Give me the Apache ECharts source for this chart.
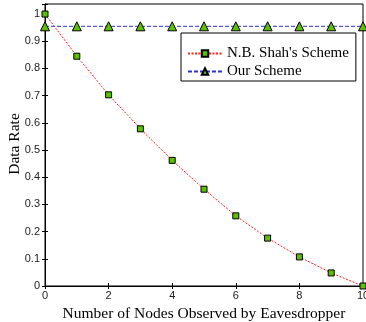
<!DOCTYPE html>
<html>
<head>
<meta charset="utf-8">
<script src="https://cdn.jsdelivr.net/npm/echarts@6/dist/echarts.min.js"></script>
<style>
  html, body { margin: 0; padding: 0; background: #fff; }
  #chart { width: 366px; height: 322px; }
</style>
</head>
<body>
<div id="chart"></div>
<script>
var nodes = [0, 1, 2, 3, 4, 5, 6, 7, 8, 9, 10];
var shahScheme = [1, 0.845, 0.703, 0.578, 0.462, 0.356, 0.258, 0.176, 0.107, 0.048, 0];
var ourScheme = [0.955, 0.955, 0.955, 0.955, 0.955, 0.955, 0.955, 0.955, 0.955, 0.955, 0.955];
var seriesNames = ["N.B. Shah's Scheme", "Our Scheme"];
var yTitle = "Data Rate";

var chart = echarts.init(document.getElementById("chart"));
var serif = "Liberation Serif";
var sans = "Liberation Sans";

function pairs(ys) {
  return nodes.map(function (x, i) { return [x, ys[i]]; });
}

var option = {
  animation: false,
  grid: {
    left: 45,
    right: 3,
    top: 4,
    bottom: 36,
    outerBoundsMode: "none",
    containLabel: false,
    show: true,
    borderColor: "#000",
    borderWidth: 1,
  },
  // y title drawn as plain text so it sits where the original one is
  graphic: [
    {
      type: "text",
      x: 15,
      y: 144,
      rotation: Math.PI / 2,
      style: {
        text: yTitle,
        fontFamily: serif,
        fontSize: 15.5,
        fill: "#000",
        align: "center",
        verticalAlign: "middle",
      },
    },
  ],
  legend: {
    orient: "vertical",
    left: 181,
    top: 33,
    padding: [13, 7, 2, 6],
    itemGap: 3,
    itemWidth: 34,
    itemHeight: 8,
    backgroundColor: "#fff",
    borderColor: "#000",
    borderWidth: 1,
    textStyle: { fontFamily: serif, fontSize: 15, color: "#000" },
    data: seriesNames,
  },
  xAxis: [
    {
      type: "value",
      min: 0,
      max: 10,
      interval: 2,
      name: "Number of Nodes Observed by Eavesdropper",
      nameLocation: "middle",
      nameGap: 17,
      nameTextStyle: { fontFamily: serif, fontSize: 15.5, color: "#000" },
      axisLine: { lineStyle: { color: "#000" } },
      axisTick: { inside: true, length: 3, lineStyle: { color: "#000" } },
      axisLabel: { fontFamily: sans, fontSize: 11, color: "#222", margin: 4 },
      splitLine: { show: false },
    },
    {
      type: "value",
      position: "top",
      min: 0,
      max: 10,
      interval: 2,
      axisLine: { lineStyle: { color: "#000" } },
      axisTick: { inside: true, length: 3, lineStyle: { color: "#000" } },
      axisLabel: { show: false },
      splitLine: { show: false },
    },
  ],
  yAxis: [
    {
      type: "value",
      min: 0,
      max: 1.037,
      interval: 0.1,
      axisLine: { lineStyle: { color: "#000" } },
      axisTick: { inside: true, length: 3, lineStyle: { color: "#000" } },
      axisLabel: {
        fontFamily: sans,
        fontSize: 11,
        color: "#222",
        margin: 5,
        formatter: function (v) { return v > 1.001 ? "" : String(Math.round(v * 10) / 10); },
      },
      splitLine: { show: false },
    },
    {
      type: "value",
      position: "right",
      min: 0,
      max: 1.037,
      interval: 0.1,
      axisLine: { lineStyle: { color: "#000" } },
      axisTick: { inside: true, length: 3, lineStyle: { color: "#000" } },
      axisLabel: { show: false },
      splitLine: { show: false },
    },
  ],
  series: [
    {
      name: seriesNames[0],
      type: "line",
      data: pairs(shahScheme),
      symbol: "rect",
      symbolSize: 6,
      itemStyle: { color: "#5cc000", borderColor: "#000", borderWidth: 1 },
      lineStyle: { color: "#ff2020", width: 1, type: [2, 1.5] },
      z: 3,
    },
    {
      name: seriesNames[1],
      type: "line",
      data: pairs(ourScheme),
      symbol: "triangle",
      symbolSize: 9,
      itemStyle: { color: "#5cc000", borderColor: "#000", borderWidth: 1 },
      lineStyle: { color: "#3030d0", width: 1, type: [4, 2] },
      z: 2,
    },
  ],
};
chart.setOption(option);
</script>
</body>
</html>
